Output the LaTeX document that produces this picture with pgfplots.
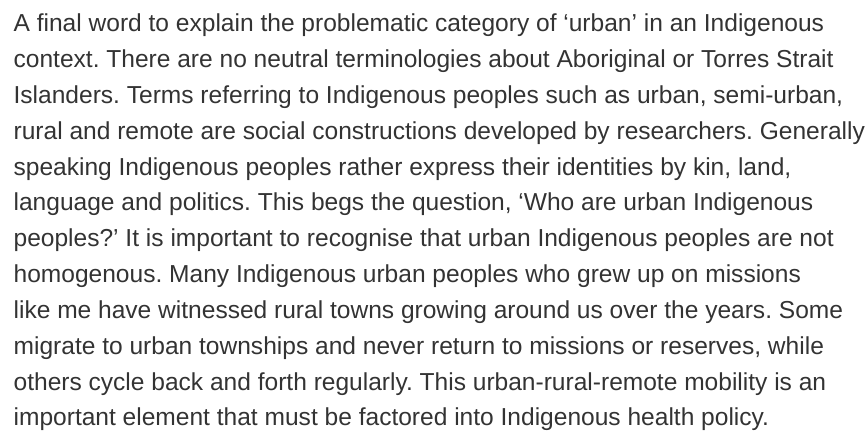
\documentclass[border=0pt]{standalone}
\usepackage{fontspec}
\setmainfont{Liberation Sans}
\usepackage{pgfplots}
\pgfplotsset{compat=1.18}
\definecolor{txt}{HTML}{333333}
\frenchspacing
\tikzset{ln/.style={anchor=base west, inner sep=0pt, outer sep=0pt, text=txt, font=\frenchspacing\fontsize{25.2bp}{30bp}\selectfont}}
\begin{document}
\begin{tikzpicture}
\begin{axis}[
  width=865bp, height=449bp, scale only axis,
  xmin=0, xmax=865, ymin=0, ymax=449,
  hide axis, clip=false,
]
\addplot[draw=none] coordinates {(0,0) (865,449)};
\node[ln] at (axis cs:14,416.5) {A final word to explain the problematic category of ‘urban’ in an Indigenous};
\node[ln] at (axis cs:14,379.7) {context. There are no neutral terminologies about Aboriginal or Torres Strait};
\node[ln] at (axis cs:14,342.9) {Islanders. Terms referring to Indigenous peoples such as urban, semi-urban,};
\node[ln] at (axis cs:14,306.1) {rural and remote are social constructions developed by researchers. Generally};
\node[ln] at (axis cs:14,269.3) {speaking Indigenous peoples rather express their identities by kin, land,};
\node[ln] at (axis cs:14,232.5) {language and politics. This begs the question, ‘Who are urban Indigenous};
\node[ln] at (axis cs:14,195.7) {peoples?’ It is important to recognise that urban Indigenous peoples are not};
\node[ln] at (axis cs:14,158.9) {homogenous. Many Indigenous urban peoples who grew up on missions};
\node[ln] at (axis cs:14,122.1) {like me have witnessed rural towns growing around us over the years. Some};
\node[ln] at (axis cs:14,85.3) {migrate to urban townships and never return to missions or reserves, while};
\node[ln] at (axis cs:14,48.5) {others cycle back and forth regularly. This urban-rural-remote mobility is an};
\node[ln] at (axis cs:14,11.7) {important element that must be factored into Indigenous health policy.};
\end{axis}
\end{tikzpicture}
\end{document}
